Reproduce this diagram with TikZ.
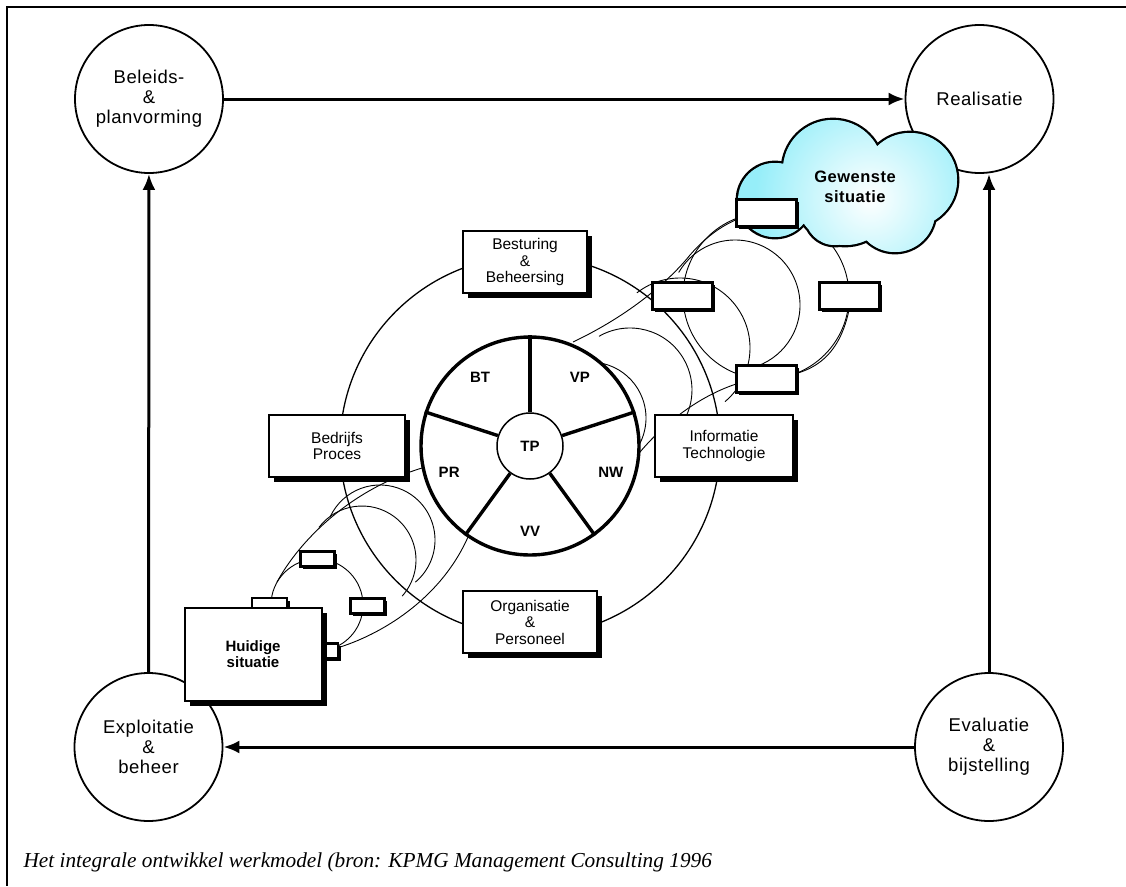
\documentclass[tikz,border=0pt]{standalone}
\usepackage{fontspec}
\setmainfont{Liberation Sans}
\newfontfamily\widesans[LetterSpace=3]{Liberation Sans}
\newfontfamily\bronfont{Liberation Serif}
\usetikzlibrary{arrows.meta,positioning,calc,shadows}
\definecolor{cloudcyan}{RGB}{150,238,249}
\def\cloudpuffs{775/200/37, 833/170/50, 910/180/47, 895/212/40, 835/215/30, 845/195/50}

\begin{document}
\begin{tikzpicture}[x=1pt,y=-1pt,
  phasecirc/.style={draw,circle,fill=white,line width=1.8pt,minimum size=148pt,inner sep=0pt,align=center,font=\widesans\fontsize{18.5}{20}\selectfont},
  areabox/.style={draw,fill=white,line width=2pt,minimum height=62pt,align=center,font=\fontsize{15.5}{16.5}\selectfont,
    drop shadow={shadow xshift=5pt,shadow yshift=-5pt,fill=black,opacity=1}},
  tagbox/.style={draw,fill=white,line width=3pt,inner sep=0pt,
    drop shadow={shadow xshift=2.5pt,shadow yshift=-2.5pt,fill=black,opacity=1}},
  coil/.style={line width=0.9pt},
  arr/.style={-{Latex[length=16pt,width=13pt]},line width=3pt},
  lbl/.style={font=\bfseries\fontsize{15}{16}\selectfont}]

\useasboundingbox (0,0) rectangle (1126,886);
\draw[line width=2pt] (1126,7) -- (7,7) -- (7,886);

% fasen van de cyclus
\node[phasecirc] (beleid) at (149,99) {Beleids-\\\&\\planvorming};
\node[phasecirc] (realis) at (979.5,99) {Realisatie};
\node[phasecirc] (evalu) at (989,747) {Evaluatie\\\&\\bijstelling};
\node[phasecirc] (exploit) at (148.5,747) {Exploitatie\\\&\\beheer};
\draw[arr] (beleid) -- (realis);
\draw[arr] (evalu) -- (evalu |- realis.south);
\draw[arr] (evalu) -- (exploit);
\draw[arr] (exploit) -- (beleid);

% ring met aandachtsgebieden
\node[circle,draw,line width=1.3pt,minimum size=380pt] (ring) at (530,446) {};

% spiraal huidige situatie -> wiel
\node[circle,draw,coil,minimum size=92pt] (loopA) at (317,605) {};
\draw[coil] (277,582) .. controls (300,540) and (350,490) .. (422,468);
\draw[coil] (337,648) .. controls (380,635) and (440,600) .. (468,537);
\draw[coil] ($(362,560)+(-143:54)$) arc[start angle=-143,end angle=42,radius=54];
\draw[coil] ($(380,540)+(-155:55)$) arc[start angle=-155,end angle=50,radius=55];

% spiraal wiel -> gewenste situatie
\draw[coil] ($(590,418)+(-110:56)$) arc[start angle=-110,end angle=40,radius=56];
\draw[coil] ($(630,390)+(-120:62)$) arc[start angle=-120,end angle=45,radius=62];
\draw[coil] ($(680,348)+(-128:70)$) arc[start angle=-128,end angle=50,radius=70];
\draw[coil] ($(735,305)+(-150:65)$) arc[start angle=-150,end angle=70,radius=65];
\node[circle,draw,coil,minimum size=166pt] (loopB) at (766,296) {};
\draw[coil] (573,342) .. controls (630,315) and (670,280) .. (690,255) .. controls (710,232) and (735,215) .. (766,212);
\draw[coil] (640,452) .. controls (680,405) and (730,380) .. (766,378) .. controls (810,376) and (840,360) .. (850,305);

% wiel
\node[circle,draw,fill=white,line width=3.4pt,minimum size=218pt] (wheel) at (530,446) {};
\node[circle,draw,fill=white,line width=1.5pt,minimum size=66pt,lbl] (tp) at (530,446) {TP};
\foreach \a in {90,18,162,234,306}
  \draw[line width=3.4pt] (tp.\a) -- (wheel.\a);
\foreach \t/\a in {BT/126,VP/54,PR/198,NW/342,VV/270}
  \node[lbl] (\t) at ($(wheel.center)+(\a:85pt)$) {\t};

\node[areabox,minimum width=124pt] (sturing) at (525,262) {Besturing\\\&\\Beheersing};
\node[areabox,minimum width=136pt] (proces) at (337,446) {Bedrijfs\\Proces};
\node[areabox,minimum width=138pt] (infotech) at (724,446) {Informatie\\Technologie};
\node[areabox,minimum width=134pt] (organ) at (530,622) {Organisatie\\\&\\Personeel};

% gewenste situatie (wolk)
\fill[black] \foreach \cx/\cy/\r in \cloudpuffs {(\cx,\cy) circle[radius=\r+2.4]};
\begin{scope}
  \clip \foreach \cx/\cy/\r in \cloudpuffs {(\cx,\cy) circle[radius=\r]};
  \fill[cloudcyan] (730,110) rectangle (965,260);
  \shade[inner color=white,outer color=cloudcyan] (870,198) circle[radius=115];
\end{scope}
\node[align=center,font=\widesans\bfseries\fontsize{16.5}{20}\selectfont] (gewenst) at (855,187) {Gewenste\\situatie};
\node[tagbox,minimum width=60pt,minimum height=27pt] (tagN) at (loopB.north) {};
\node[tagbox,minimum width=60pt,minimum height=27pt] (tagW) at (loopB.west) {};
\node[tagbox,minimum width=60pt,minimum height=27pt] (tagE) at (loopB.east) {};
\node[tagbox,minimum width=60pt,minimum height=27pt] (tagS) at (loopB.south) {};

% huidige situatie
\node[tagbox,minimum width=34pt,minimum height=15pt] (tagA) at (loopA.north) {};
\node[tagbox,minimum width=34pt,minimum height=15pt] (tagB) at (367,606) {};
\node[tagbox,line width=2.2pt,minimum width=35pt,minimum height=12pt] (tabtop) at (269.5,604) {};
\node[tagbox,line width=2.2pt,minimum width=16pt,minimum height=15pt] (tabright) at (330,651) {};
\node[areabox,minimum width=137pt,minimum height=93pt,font=\bfseries\fontsize{15}{15.5}\selectfont] (huidig) at (253,654) {Huidige\\situatie};

\node[anchor=base west,font=\bronfont\itshape\fontsize{21.3}{22}\selectfont] (bron) at (20,867)
  {Het integrale ontwikkel werkmodel (bron: KPMG Management Consulting 1996};
\end{tikzpicture}
\end{document}
